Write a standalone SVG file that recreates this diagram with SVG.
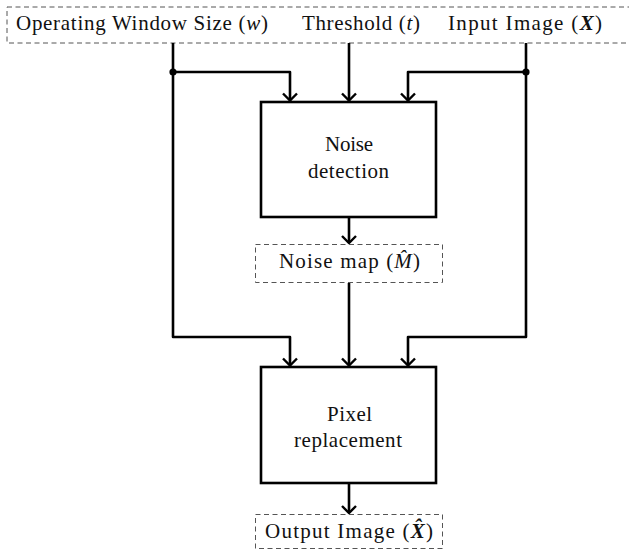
<svg xmlns="http://www.w3.org/2000/svg" width="629" height="551" viewBox="0 0 629 551">
  <style>
    .lbl { font-family: "Liberation Serif", "DejaVu Serif", serif; font-size: 21px; fill: #111; }
    .it { font-style: italic; }
    .bi { font-style: italic; font-weight: bold; }
    .dash { fill: #fff; stroke: #555; stroke-width: 1; stroke-dasharray: 5 3.5; }
    .block { fill: #fff; stroke: #000; stroke-width: 2.6; }
    .wire { fill: none; stroke: #000; stroke-width: 2.6; stroke-linejoin: round; }
  </style>
  <defs>
    <marker id="head" viewBox="-9 -9 11 18" refX="0" refY="0" markerWidth="11" markerHeight="18" markerUnits="userSpaceOnUse" orient="auto">
      <path d="M-7,-7 L0,0 L-7,7" fill="none" stroke="#000" stroke-width="2.4" stroke-linejoin="miter"/>
    </marker>
  </defs>

  <rect width="629" height="551" fill="#fff"/>

  <!-- inputs -->
  <g id="inputs">
    <rect class="dash" x="7" y="7" width="640" height="36"/>
    <text class="lbl" x="16" y="30" textLength="252" lengthAdjust="spacing">Operating Window Size (<tspan class="it">w</tspan>)</text>
    <text class="lbl" x="302" y="30" textLength="118" lengthAdjust="spacing">Threshold (<tspan class="it">t</tspan>)</text>
    <text class="lbl" x="448" y="30" textLength="154" lengthAdjust="spacing">Input Image (<tspan class="bi">X</tspan>)</text>
  </g>

  <!-- connectors -->
  <g id="connectors">
    <path class="wire" d="M173,43 V337 H290 V365.5" marker-end="url(#head)"/>
    <path class="wire" d="M173,72 H290 V100.5" marker-end="url(#head)"/>
    <path class="wire" d="M349,43 V100.5" marker-end="url(#head)"/>
    <path class="wire" d="M526,43 V337 H408 V365.5" marker-end="url(#head)"/>
    <path class="wire" d="M526,72 H408 V100.5" marker-end="url(#head)"/>
    <path class="wire" d="M349,217 V243" marker-end="url(#head)"/>
    <path class="wire" d="M349,283 V365.5" marker-end="url(#head)"/>
    <path class="wire" d="M349,483 V513" marker-end="url(#head)"/>
    <circle cx="173" cy="72" r="3.6" fill="#000"/>
    <circle cx="526" cy="72" r="3.6" fill="#000"/>
  </g>

  <g id="noise-detection">
    <rect class="block" x="261" y="102" width="175" height="115"/>
    <text class="lbl" x="325" y="151" textLength="48" lengthAdjust="spacing">Noise</text>
    <text class="lbl" x="308" y="178" textLength="81" lengthAdjust="spacing">detection</text>
  </g>

  <g id="noise-map">
    <rect class="dash" x="255.5" y="244.5" width="187" height="38"/>
    <text class="lbl" x="279" y="268" textLength="141" lengthAdjust="spacing">Noise map (<tspan class="it">M̂</tspan>)</text>
  </g>

  <g id="pixel-replacement">
    <rect class="block" x="261" y="367" width="175" height="116"/>
    <text class="lbl" x="327" y="421" textLength="45" lengthAdjust="spacing">Pixel</text>
    <text class="lbl" x="294" y="447" textLength="108" lengthAdjust="spacing">replacement</text>
  </g>

  <g id="output">
    <rect class="dash" x="255.5" y="514.5" width="187" height="34"/>
    <text class="lbl" x="265" y="538" textLength="168" lengthAdjust="spacing">Output Image (<tspan class="bi">X̂</tspan>)</text>
  </g>
</svg>
